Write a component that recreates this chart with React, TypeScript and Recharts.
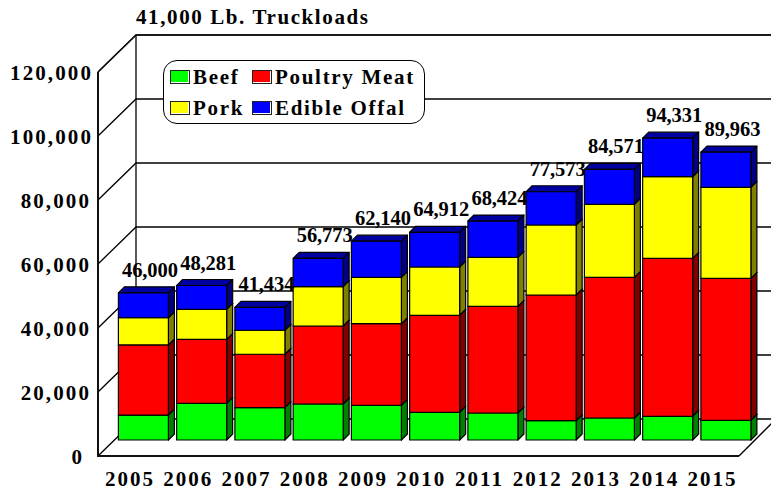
import React from "react";
import { Bar, BarChart, CartesianGrid, LabelList, Legend, XAxis, YAxis } from "recharts";

const years = ["2005", "2006", "2007", "2008", "2009", "2010", "2011", "2012", "2013", "2014", "2015"];
const beef = [7800, 11450, 10100, 11250, 10840, 8660, 8440, 6030, 6880, 7410, 6160];
const poultry = [21900, 20000, 16700, 24370, 25500, 30310, 33340, 39280, 43960, 49370, 44370];
const pork = [8500, 9400, 7500, 12300, 14500, 15090, 15310, 21880, 22820, 25500, 28440];
const offal = [7800, 7431, 7134, 8853, 11300, 10852, 11334, 10383, 10911, 12051, 10993];
const totals = [46000, 48281, 41434, 56773, 62140, 64912, 68424, 77573, 84571, 94331, 89963];
const yTicks = [0, 20000, 40000, 60000, 80000, 100000, 120000];

const rows = years.map((year, i) => ({
  year,
  beef: beef[i],
  poultry: poultry[i],
  pork: pork[i],
  offal: offal[i],
  total: totals[i],
}));

const FONT = '"Liberation Serif", serif';
const DEPTH = 6;

// The bars stand on a plane 16px behind the front edge of the floor and 21px before the back wall.
const FRONT_DY = 16;
const WALL_DEPTH = 37;
const WIDTH = 771;
const HEIGHT = 493;

function box(sideFill: string, topFill: string) {
  return function Box3D(props: any) {
    const { x, y, width, height, fill } = props;
    const r = x + width;
    const b = y + height;
    return (
      <g stroke="#000" strokeWidth={1.2} strokeLinejoin="round">
        <polygon points={`${x},${y} ${x + DEPTH},${y - DEPTH} ${r + DEPTH},${y - DEPTH} ${r},${y}`} fill={topFill} />
        <polygon points={`${r},${y} ${r + DEPTH},${y - DEPTH} ${r + DEPTH},${b - DEPTH} ${r},${b}`} fill={sideFill} />
        <rect x={x} y={y} width={width} height={height} fill={fill} />
      </g>
    );
  };
}

function GridLine(props: any) {
  const front = props.y1 + FRONT_DY;
  return (
    <polyline
      points={`98,${front} 136,${front - WALL_DEPTH} ${WIDTH},${front - WALL_DEPTH}`}
      fill="none"
      stroke="#000"
      strokeWidth={1.3}
    />
  );
}

function YTick(props: any) {
  const { y, payload } = props;
  const label = payload.value.toLocaleString("en-US");
  const right = label.length === 7 ? 93 : label.length === 6 ? 91 : 84;
  return (
    <text x={right} y={y + 24} textAnchor="end" fontFamily={FONT} fontWeight="bold" fontSize={21} letterSpacing={2.1} fill="#000">
      {label}
    </text>
  );
}

function XTick(props: any) {
  const { x, payload } = props;
  return (
    <text x={x - 13.5} y={486} textAnchor="middle" fontFamily={FONT} fontWeight="bold" fontSize={21} letterSpacing={2} fill="#000">
      {payload.value}
    </text>
  );
}

function TotalLabel(props: any) {
  const { x, y, width, value } = props;
  return (
    <text x={x + width / 2 + 6.5} y={y - 16} textAnchor="middle" fontFamily={FONT} fontWeight="bold" fontSize={20.5} letterSpacing={-0.1} fill="#000">
      {Number(value).toLocaleString("en-US")}
    </text>
  );
}

function LegendBox(props: any) {
  const items = props.payload ?? [];
  return (
    <div
      style={{
        boxSizing: "border-box",
        width: 262,
        height: 64,
        border: "1.3px solid #000",
        borderRadius: 14,
        background: "#fff",
        display: "grid",
        gridTemplateColumns: "82px 1fr",
        gridTemplateRows: "32px 30px",
        paddingLeft: 6,
        fontFamily: FONT,
        fontWeight: "bold",
        fontSize: 21,
        letterSpacing: 1.7,
        color: "#000",
      }}
    >
      {items.map((item: any) => (
        <div key={item.value} style={{ display: "flex", alignItems: "center", whiteSpace: "nowrap" }}>
          <span
            style={{
              boxSizing: "border-box",
              width: 20,
              height: 14,
              marginRight: 3,
              background: item.color,
              border: "1px solid #222",
              boxShadow: "inset -1px -1px 0 #fff",
            }}
          />
          {item.value}
        </div>
      ))}
    </div>
  );
}

export default function App() {
  return (
    <div style={{ position: "absolute", left: 0, top: 0, width: WIDTH, height: HEIGHT, background: "#fff", overflow: "hidden" }}>
      <BarChart
        width={WIDTH}
        height={HEIGHT}
        data={rows}
        margin={{ top: 56, right: 15.85, bottom: 0, left: 0.4 }}
        barSize={50}
      >
        <CartesianGrid
          vertical={false}
          horizontal={(p: any) => <GridLine key={p.key ?? p.y1} {...p} />}
          horizontalValues={yTicks}
        />
        {/* Wall and floor edges of the box */}
        <polyline points="98,72 98,456 739,456" fill="none" stroke="#111" strokeWidth={2} />
        <polyline points="98,72 136,35 771,35" fill="none" stroke="#111" strokeWidth={1.3} />
        <line x1={136} y1={35} x2={136} y2={419} stroke="#000" strokeWidth={1.3} />
        <line x1={739} y1={456} x2={776} y2={419} stroke="#000" strokeWidth={1.3} />
        <XAxis dataKey="year" axisLine={false} tickLine={false} height={53} tick={<XTick />} interval={0} />
        <YAxis width={114} domain={[0, 120000]} ticks={yTicks} axisLine={false} tickLine={false} tick={<YTick />} interval={0} />
        <Legend
          layout="horizontal"
          verticalAlign="middle"
          itemSorter={null}
          wrapperStyle={{ position: "absolute", left: 163, top: 60, width: 262, height: 64 }}
          content={<LegendBox />}
        />
        <Bar dataKey="beef" name="Beef" stackId="meat" fill="#00ff00" isAnimationActive={false} shape={box("#008000", "#00a000")} />
        <Bar dataKey="poultry" name="Poultry Meat" stackId="meat" fill="#ff0000" isAnimationActive={false} shape={box("#800000", "#a00000")} />
        <Bar dataKey="pork" name="Pork" stackId="meat" fill="#ffff00" isAnimationActive={false} shape={box("#808000", "#a0a000")} />
        <Bar dataKey="offal" name="Edible Offal" stackId="meat" fill="#0000ff" isAnimationActive={false} shape={box("#000080", "#0000a0")}>
          <LabelList dataKey="total" content={<TotalLabel />} />
        </Bar>
        <text x={136} y={24} fontFamily={FONT} fontWeight="bold" fontSize={21} letterSpacing={1.6} fill="#000">
          41,000 Lb. Truckloads
        </text>
      </BarChart>
    </div>
  );
}
